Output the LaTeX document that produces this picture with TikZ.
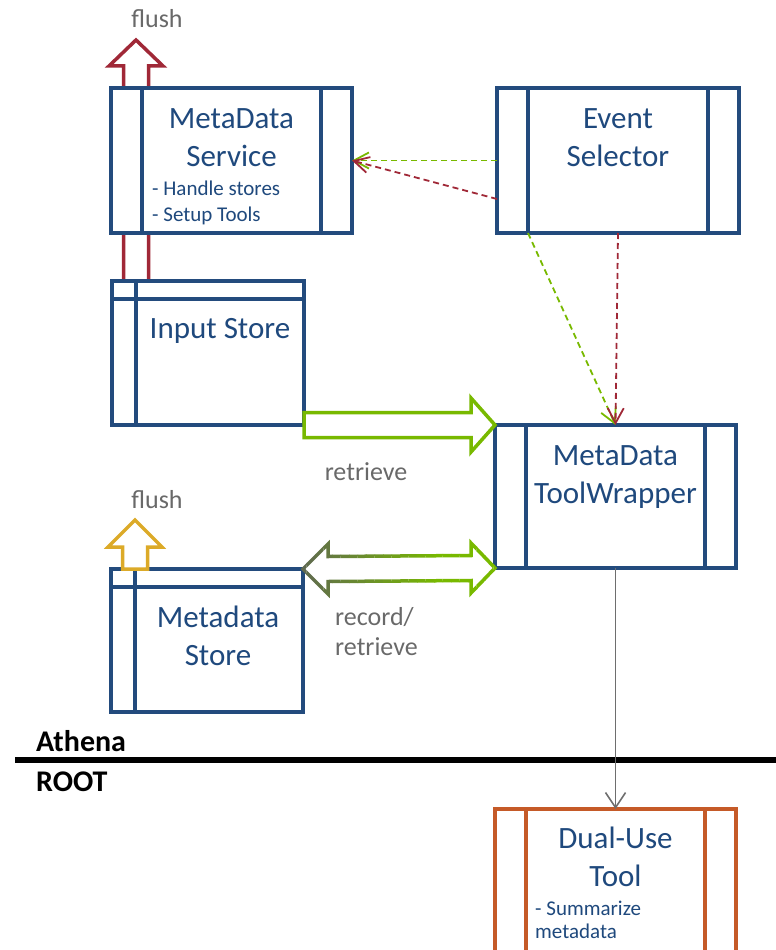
\documentclass[tikz,border=0pt]{standalone}
\usepackage{fontspec}
\setmainfont{Carlito}
\usepackage{xcolor}
\usepackage{tikz}
\usetikzlibrary{arrows.meta, calc, positioning, backgrounds}

\definecolor{boxblue}{RGB}{35,75,125}
\definecolor{txtblue}{RGB}{31,73,125}
\definecolor{flushred}{RGB}{160,40,55}
\definecolor{arrgreen}{RGB}{120,185,0}
\definecolor{arrolive}{RGB}{95,105,80}
\definecolor{flushgold}{RGB}{220,170,40}
\definecolor{dualorange}{RGB}{197,90,40}
\definecolor{lblgray}{RGB}{105,105,105}
\definecolor{linkgray}{RGB}{110,110,110}

\begin{document}
\begin{tikzpicture}[
            x=1pt, y=1pt,
            >={Straight Barb[length=15pt,width=16pt]},
            procbox/.style={draw=#1, line width=3.5pt, fill=white, anchor=north west, inner sep=0pt, outer sep=0pt,
                path picture={\draw[#1, line width=3.5pt]
                    ([xshift=31pt]path picture bounding box.north west) -- ([xshift=31pt]path picture bounding box.south west)
                    ([xshift=-31pt]path picture bounding box.north east) -- ([xshift=-31pt]path picture bounding box.south east);}},
            procbox/.default=boxblue,
            storebox/.style={draw=boxblue, line width=3.5pt, fill=white, anchor=north west, inner sep=0pt, outer sep=0pt,
                path picture={\draw[boxblue, line width=3.5pt]
                    ([yshift=-18pt]path picture bounding box.north west) -- ([yshift=-18pt]path picture bounding box.north east)
                    ([xshift=24pt]path picture bounding box.north west) -- ([xshift=24pt]path picture bounding box.south west);}},
            ttl/.style={font=\fontsize{31}{38}\selectfont, text=txtblue, align=center, inner sep=0pt},
            note/.style={font=\fontsize{21}{26}\selectfont, text=txtblue, align=left, inner sep=0pt},
            lbl/.style={font=\fontsize{26}{30}\selectfont, text=lblgray, inner sep=0pt},
            tiername/.style={font=\bfseries\fontsize{30}{32}\selectfont, inner sep=0pt, anchor=base west},
            dashmsg/.style={->, line width=1.8pt, dash pattern=on 6pt off 4pt},
            link/.style={->, line width=1.6pt, draw=linkgray, >={Straight Barb[length=15pt,width=20pt]}},
            blockarr/.style={line width=3.5pt, fill=white}
        ]
        \useasboundingbox (0,0) rectangle (776,-950);

        % 1. Boxes
        \node[procbox, minimum width=241pt, minimum height=145pt] (msvc) at (111,-88) {};
        \node[procbox, minimum width=242pt, minimum height=145pt] (evsel) at (497,-88) {};
        \node[storebox, minimum width=192pt, minimum height=144pt] (instore) at (112,-281) {};
        \node[procbox, minimum width=241pt, minimum height=143pt] (twrap) at (495,-425) {};
        \node[storebox, minimum width=192pt, minimum height=143pt] (mdstore) at (111,-569) {};
        \node[procbox=dualorange, minimum width=241pt, minimum height=200pt] (dual) at (495,-809) {};

        % 2. Box texts
        \node[ttl, below=20pt of msvc.north] (msvctxt) {MetaData\\Service};
        \node[note, below right=93pt and 41pt of msvc.north west] (msvcnote) {- Handle stores\\- Setup Tools};
        \node[ttl, below=20pt of evsel.north] (evseltxt) {Event\\Selector};
        \node[ttl, below=37pt of instore.north, xshift=12pt] (instoretxt) {Input Store};
        \node[ttl, below=20pt of twrap.north] (twraptxt) {MetaData\\ToolWrapper};
        \node[ttl, below=37pt of mdstore.north, xshift=11pt] (mdstoretxt) {Metadata\\Store};
        \node[ttl, below=18pt of dual.north] (dualtxt) {Dual-Use\\Tool};
        \node[note, font=\fontsize{21}{23}\selectfont, below right=92pt and 40pt of dual.north west] (dualnote) {- Summarize\\metadata};

        % 3. Flush arrows
        \begin{scope}[on background layer]
        \coordinate (redbase) at ($(instore.north west)+(24,0)$);
        \draw[blockarr, draw=flushred] ($(redbase)+(-12.5,0)$) -- ++(0,215) -- ++(-14.5,0) -- ($(redbase)+(0,241)$)
            -- ($(redbase)+(27,215)$) -- ++(-14.5,0) -- ($(redbase)+(12.5,0)$) -- cycle;
        \end{scope}
        \coordinate (goldbase) at ($(mdstore.north west)+(24,0)$);
        \draw[blockarr, draw=flushgold] ($(goldbase)+(-12.5,0)$) -- ++(0,22) -- ++(-14.5,0) -- ($(goldbase)+(0,49)$)
            -- ($(goldbase)+(27,22)$) -- ++(-14.5,0) -- ($(goldbase)+(12.5,0)$) -- cycle;
        \node[lbl, anchor=base] (flushtop) at (157,-28) {flush};
        \node[lbl, anchor=base] (flushbot) at (157,-508) {flush};

        % 4. Retrieve arrow
        \draw[blockarr, draw=arrgreen] ($(instore.south east)+(0,12.5)$) -- ($(twrap.north west)+(-24,12.5)$) -- ++(0,14.5)
            -- (twrap.north west) -- ($(twrap.north west)+(-24,-27)$) -- ++(0,14.5) -- ($(instore.south east)+(0,-12.5)$) -- cycle;
        \node[lbl, anchor=base] (retrtxt) at (366,-480) {retrieve};

        % 5. Record/retrieve arrow (olive to green)
        \foreach \i in {0,...,23} {
            \pgfmathsetmacro{\mix}{min(100,100*\i/16)}
            \begin{scope}
            \clip (298+8.5*\i,-530) rectangle (307+8.5*\i,-610);
            \draw[blockarr, draw=arrgreen!\mix!arrolive] (mdstore.north east) -- ($(mdstore.north east)+(25,25)$) -- ($(mdstore.north east)+(25,12.5)$)
                -- ($(twrap.south west)+(-24,12.5)$) -- ($(twrap.south west)+(-24,25)$) -- (twrap.south west)
                -- ($(twrap.south west)+(-24,-25)$) -- ($(twrap.south west)+(-24,-12.5)$)
                -- ($(mdstore.north east)+(25,-12.5)$) -- ($(mdstore.north east)+(25,-25)$) -- cycle;
            \end{scope}
        }
        \node[lbl, anchor=north west, align=left] (rectxt) at (335,-607) {record/\\retrieve};

        % 6. Event selector messages
        \draw[dashmsg, arrgreen] (evsel.west) -- (msvc.east);
        \draw[dashmsg, flushred] ($(evsel.south west)+(0,34)$) -- (msvc.east);
        \draw[dashmsg, arrgreen] ($(evsel.south west)+(31,0)$) -- (twrap.north);
        \draw[dashmsg, flushred] (evsel.south) -- (twrap.north);

        % 7. Athena / ROOT split
        \coordinate (sepL) at (15,-760);
        \coordinate (sepR) at (776,-760);
        \draw[line width=6pt] (sepL) -- (sepR);
        \node[tiername] (athena) at (36,-751) {Athena};
        \node[tiername] (root) at (36,-791) {ROOT};
        \draw[link] (twrap.south) -- (dual.north);

        \end{tikzpicture}
\end{document}
